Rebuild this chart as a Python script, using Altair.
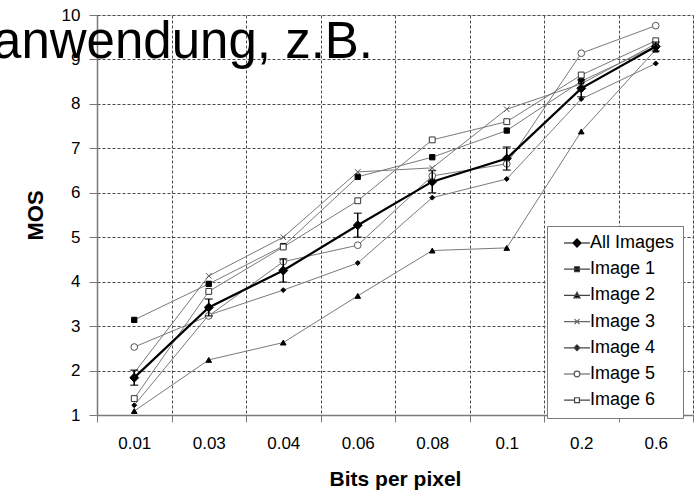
import altair as alt
import pandas as pd

# Bit rates (category axis) and mean opinion scores per test image
categories = ["0.01", "0.03", "0.04", "0.06", "0.08", "0.1", "0.2", "0.6"]
series_names = ["All Images", "Image 1", "Image 2", "Image 3", "Image 4", "Image 5", "Image 6"]

all_images = [1.84, 3.42, 4.25, 5.27, 6.25, 6.77, 8.35, 9.29]
all_err = [0.17, 0.19, 0.26, 0.27, 0.25, 0.26, 0.19, 0.10]
image_1 = [3.14, 3.95, 4.80, 6.36, 6.80, 7.40, 8.51, 9.30]
image_2 = [1.09, 2.24, 2.63, 3.68, 4.70, 4.76, 7.38, 9.22]
image_3 = [1.95, 4.13, 5.00, 6.47, 6.56, 7.88, 8.45, 9.35]
image_4 = [1.22, 3.25, 3.81, 4.42, 5.89, 6.31, 8.11, 8.91]
image_5 = [2.53, 3.23, 4.45, 4.82, 6.38, 6.65, 9.14, 9.76]
image_6 = [1.37, 3.78, 4.78, 5.82, 7.19, 7.60, 8.65, 9.42]

values = [all_images, image_1, image_2, image_3, image_4, image_5, image_6]

rows = []
for name, vals in zip(series_names, values):
    for cat, v in zip(categories, vals):
        rows.append({"bpp": cat, "mos": v, "series": name})
df = pd.DataFrame(rows)

err = pd.DataFrame({
    "bpp": categories,
    "lo": [m - e for m, e in zip(all_images, all_err)],
    "hi": [m + e for m, e in zip(all_images, all_err)],
})

FONT = "Liberation Sans"
GRAY = "#7a7a7a"
GRID = "#4a4a4a"

x_enc = alt.X(
    "bpp:N", sort=categories,
    scale=alt.Scale(paddingInner=0, paddingOuter=0),
    axis=alt.Axis(
        title="Bits per pixel", labelAngle=0, tickBand="extent",
        grid=True, gridDash=[3, 2], gridColor=GRID, gridWidth=1,
        tickSize=7, tickColor=GRAY, domainColor=GRAY, domainWidth=1.5,
        labelFontSize=17, labelPadding=13, labelColor="#000",
        titleFontSize=21, titleFontWeight="bold", titlePadding=17,
        titleColor="#000", labelFont=FONT, titleFont=FONT,
    ),
)
y_scale = alt.Scale(domain=[1, 10], nice=False, zero=False)
y_enc = alt.Y(
    "mos:Q", scale=y_scale,
    axis=alt.Axis(
        title="MOS", values=list(range(1, 11)),
        grid=True, gridDash=[3, 2], gridColor=GRID, gridWidth=1,
        tickSize=8, tickColor=GRAY, domainColor=GRAY, domainWidth=1.5,
        labelFontSize=17, labelPadding=9, labelColor="#000",
        titleFontSize=22, titleFontWeight="bold", titlePadding=14,
        titleColor="#000", labelFont=FONT, titleFont=FONT,
    ),
)

images_df = df[df["series"] != "All Images"]
all_df = df[df["series"] == "All Images"]

# thin gray lines for each individual image
image_lines = alt.Chart(images_df).mark_line(color=GRAY, strokeWidth=1).encode(
    x=x_enc, y=y_enc, detail="series:N"
)

# marker styles per series
x_path = "M-1,-1L1,1M-1,1L1,-1"
shape_scale = alt.Scale(
    domain=series_names,
    range=["diamond", "square", "triangle-up", x_path, "diamond", "circle", "square"],
)
fill_scale = alt.Scale(
    domain=series_names,
    range=["#000", "#000", "#000", "transparent", "#000", "#fff", "#fff"],
)
stroke_scale = alt.Scale(
    domain=series_names,
    range=["#000", "#000", "#000", "#555", "#000", "#555", "#333"],
)
size_scale = alt.Scale(
    type="ordinal",
    domain=series_names,
    range=[80, 28, 32, 30, 24, 45, 34],
)

points = alt.Chart(df).mark_point(filled=False, opacity=1, strokeWidth=1).encode(
    x=x_enc, y=y_enc,
    shape=alt.Shape("series:N", scale=shape_scale, legend=None),
    fill=alt.Fill("series:N", scale=fill_scale, legend=None),
    stroke=alt.Stroke("series:N", scale=stroke_scale, legend=None),
    size=alt.Size("series:N", scale=size_scale, legend=None),
)

all_line = alt.Chart(all_df).mark_line(color="#000", strokeWidth=2.2).encode(
    x=x_enc, y=y_enc
)

err_rule = alt.Chart(err).mark_rule(color="#000", strokeWidth=1.5).encode(
    x=x_enc, y=alt.Y("lo:Q", scale=y_scale), y2="hi:Q"
)
err_lo = alt.Chart(err).mark_tick(color="#000", size=8, thickness=1.5).encode(
    x=x_enc, y=alt.Y("lo:Q", scale=y_scale)
)
err_hi = alt.Chart(err).mark_tick(color="#000", size=8, thickness=1.5).encode(
    x=x_enc, y=alt.Y("hi:Q", scale=y_scale)
)

# legend symbols: short line segment with the series marker
legend_shapes = [
    "M-1.6,0H1.6M0,-0.5L0.5,0L0,0.5L-0.5,0Z",
    "M-1.6,0H1.6M-0.3,-0.3H0.3V0.3H-0.3Z",
    "M-1.6,0H1.6M0,-0.38L0.38,0.3H-0.38Z",
    "M-1.6,0H1.6M-0.3,-0.3L0.3,0.3M-0.3,0.3L0.3,-0.3",
    "M-1.6,0H1.6M0,-0.36L0.36,0L0,0.36L-0.36,0Z",
    "M-1.6,0H-0.35M0.35,0H1.6M-0.35,0A0.35,0.35,0,1,1,0.35,0A0.35,0.35,0,1,1,-0.35,0Z",
    "M-1.6,0H-0.3M0.3,0H1.6M-0.3,-0.3H0.3V0.3H-0.3Z",
]
legend_layer = alt.Chart(df).transform_filter("false").mark_point(opacity=1).encode(
    x=x_enc, y=y_enc,
    shape=alt.Shape(
        "series:N",
        scale=alt.Scale(domain=series_names, range=legend_shapes),
        legend=alt.Legend(
            title=None, orient="none", legendX=450, legendY=211,
            fillColor="#fff", strokeColor=GRAY, padding=8,
            symbolSize=264, rowPadding=8.2, symbolOffset=13, labelOffset=4,
            labelFontSize=18, labelFont=FONT, labelColor="#000",
            symbolOpacity=1, symbolStrokeWidth=1.2,
        ),
    ),
    fill=alt.Fill(
        "series:N",
        scale=alt.Scale(domain=series_names,
                        range=["#000", "#000", "#000", "#fff", "#000", "#fff", "#fff"]),
    ),
    stroke=alt.Stroke(
        "series:N",
        scale=alt.Scale(domain=series_names,
                        range=["#000", "#444", "#444", "#666", "#444", "#555", "#444"]),
    ),
)

# slide text overlapping the top of the chart
overlay = alt.Chart(pd.DataFrame({"t": ["anwendung, z.B."]})).mark_text(
    align="right", baseline="alphabetic", fontSize=51, font=FONT, color="#000"
).encode(text="t:N", x=alt.value(276), y=alt.value(43))

chart = alt.layer(
    image_lines, points, all_line, err_rule, err_lo, err_hi, legend_layer, overlay
).resolve_scale(
    shape="independent", fill="independent", stroke="independent", size="independent"
).properties(
    width=596, height=400,
    autosize=alt.AutoSizeParams(type="none"),
    padding={"left": 97, "top": 15, "right": 4, "bottom": 77},
).configure_view(
    stroke=GRAY, strokeWidth=1.5
).configure(background="#fff")

chart.save("out.html", embed_options={"renderer": "svg", "actions": False})
